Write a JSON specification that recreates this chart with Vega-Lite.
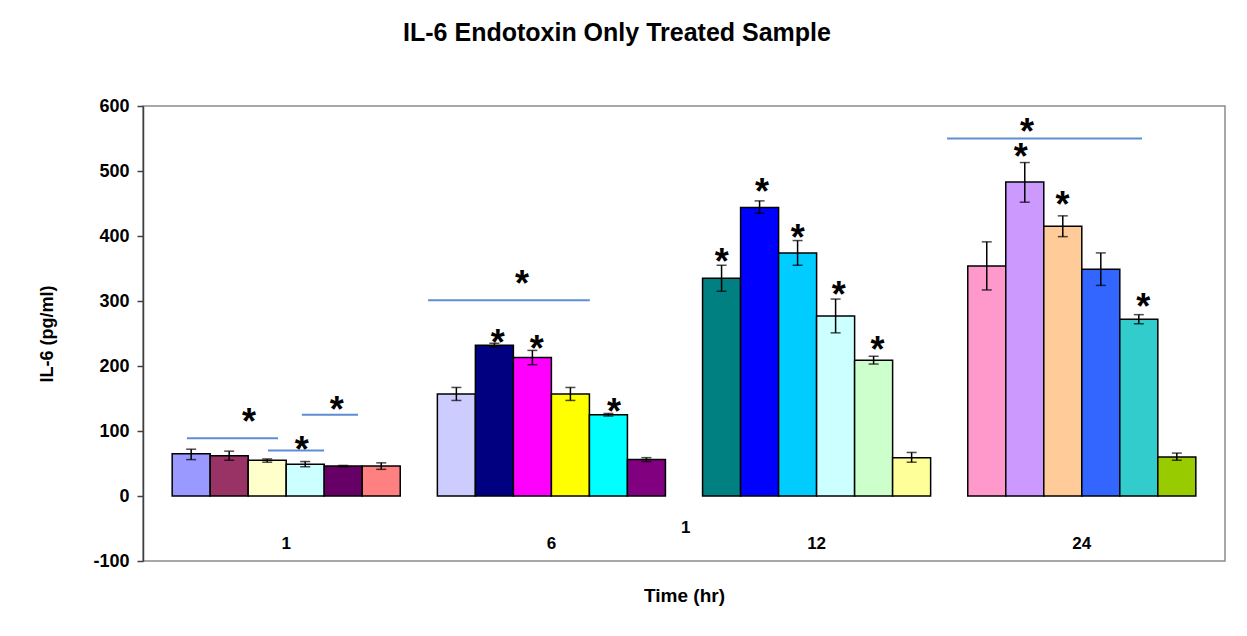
{
  "$schema": "https://vega.github.io/schema/vega-lite/v6.json",
  "width": 1082,
  "height": 455,
  "autosize": {"type": "none"},
  "padding": {"left": 143, "top": 106, "right": 22, "bottom": 75},
  "background": "white",
  "title": {
    "text": "IL-6 Endotoxin Only Treated Sample",
    "font": "Liberation Sans",
    "fontSize": 25,
    "fontWeight": "bold",
    "color": "black",
    "anchor": "middle",
    "dx": -67,
    "offset": 51
  },
  "config": {
    "view": {"stroke": "#8c8c8c", "strokeWidth": 1.5},
    "axis": {"grid": false}
  },
  "datasets": {
    "bars": [
      {"t": "1", "s": 1, "id": "1-1", "v": 65, "lo": 56, "hi": 72},
      {"t": "1", "s": 2, "id": "1-2", "v": 62, "lo": 55, "hi": 69},
      {"t": "1", "s": 3, "id": "1-3", "v": 55, "lo": 52, "hi": 57},
      {"t": "1", "s": 4, "id": "1-4", "v": 49, "lo": 45, "hi": 53},
      {"t": "1", "s": 5, "id": "1-5", "v": 46, "lo": 45, "hi": 47},
      {"t": "1", "s": 6, "id": "1-6", "v": 46, "lo": 41, "hi": 51},
      {"t": "6", "s": 1, "id": "6-1", "v": 157, "lo": 147, "hi": 167},
      {"t": "6", "s": 2, "id": "6-2", "v": 232, "lo": 229, "hi": 235},
      {"t": "6", "s": 3, "id": "6-3", "v": 213, "lo": 202, "hi": 224},
      {"t": "6", "s": 4, "id": "6-4", "v": 157, "lo": 147, "hi": 167},
      {"t": "6", "s": 5, "id": "6-5", "v": 125, "lo": 123, "hi": 127},
      {"t": "6", "s": 6, "id": "6-6", "v": 56, "lo": 53, "hi": 59},
      {"t": "12", "s": 1, "id": "12-1", "v": 335, "lo": 315, "hi": 355},
      {"t": "12", "s": 2, "id": "12-2", "v": 444, "lo": 435, "hi": 454},
      {"t": "12", "s": 3, "id": "12-3", "v": 374, "lo": 355, "hi": 393},
      {"t": "12", "s": 4, "id": "12-4", "v": 277, "lo": 251, "hi": 303},
      {"t": "12", "s": 5, "id": "12-5", "v": 209, "lo": 203, "hi": 215},
      {"t": "12", "s": 6, "id": "12-6", "v": 59, "lo": 52, "hi": 67},
      {"t": "24", "s": 1, "id": "24-1", "v": 354, "lo": 317, "hi": 391},
      {"t": "24", "s": 2, "id": "24-2", "v": 483, "lo": 452, "hi": 513},
      {"t": "24", "s": 3, "id": "24-3", "v": 415, "lo": 399, "hi": 431},
      {"t": "24", "s": 4, "id": "24-4", "v": 349, "lo": 324, "hi": 374},
      {"t": "24", "s": 5, "id": "24-5", "v": 272, "lo": 265, "hi": 279},
      {"t": "24", "s": 6, "id": "24-6", "v": 60, "lo": 55, "hi": 66}
    ],
    "lines": [
      {"u1": 0.056, "u2": 0.399, "y": 89},
      {"u1": 0.361, "u2": 0.573, "y": 70},
      {"u1": 0.489, "u2": 0.701, "y": 125},
      {"u1": 0.965, "u2": 1.575, "y": 301},
      {"u1": 2.922, "u2": 3.657, "y": 550}
    ],
    "stars": [
      {"u": 0.290, "y": 125, "label": "*"},
      {"u": 0.489, "y": 82, "label": "*"},
      {"u": 0.621, "y": 143, "label": "*"},
      {"u": 1.319, "y": 337, "label": "*"},
      {"u": 3.223, "y": 571, "label": "*"},
      {"u": 1.228, "y": 246, "label": "*"},
      {"u": 1.375, "y": 237, "label": "*"},
      {"u": 1.666, "y": 140, "label": "*"},
      {"u": 2.072, "y": 371, "label": "*"},
      {"u": 2.224, "y": 478, "label": "*"},
      {"u": 2.359, "y": 407, "label": "*"},
      {"u": 2.514, "y": 320, "label": "*"},
      {"u": 2.660, "y": 236, "label": "*"},
      {"u": 3.200, "y": 533, "label": "*"},
      {"u": 3.357, "y": 458, "label": "*"},
      {"u": 3.662, "y": 302, "label": "*"}
    ],
    "notes": [
      {"u": 1.937, "y": -49, "label": "1"}
    ]
  },
  "layer": [
    {
      "data": {"name": "bars"},
      "encoding": {
        "x": {
          "field": "t",
          "type": "nominal",
          "sort": ["1", "6", "12", "24"],
          "scale": {"paddingInner": 0.14, "paddingOuter": 0.11},
          "axis": {
            "title": "Time (hr)",
            "titleFont": "Liberation Sans",
            "titleFontSize": 19,
            "titleFontWeight": "bold",
            "titleColor": "black",
            "titlePadding": 25,
            "labelAngle": 0,
            "labelFont": "Liberation Sans",
            "labelFontSize": 17,
            "labelFontWeight": "bold",
            "labelColor": "black",
            "labelPadding": -26,
            "ticks": false,
            "domain": false
          }
        },
        "xOffset": {"field": "s", "type": "ordinal", "scale": {"paddingInner": 0, "paddingOuter": 0}}
      },
      "layer": [
        {
          "mark": {"type": "bar", "stroke": "black", "strokeWidth": 1.5},
          "encoding": {
            "y": {
              "field": "v",
              "type": "quantitative",
              "title": "IL-6 (pg/ml)",
              "scale": {"domain": [-100, 600], "nice": false},
              "axis": {
                "values": [-100, 0, 100, 200, 300, 400, 500, 600],
                "labelExpr": "'' + datum.value",
                "domainColor": "#404040",
                "domainWidth": 1.5,
                "tickColor": "#404040",
                "tickWidth": 1.5,
                "tickSize": 6,
                "labelFont": "Liberation Sans",
                "labelFontSize": 18,
                "labelFontWeight": "bold",
                "labelColor": "black",
                "labelPadding": 8,
                "titleFont": "Liberation Sans",
                "titleFontSize": 18,
                "titleFontWeight": "bold",
                "titleColor": "black",
                "titlePadding": 36
              }
            },
            "color": {
              "field": "id",
              "type": "nominal",
              "legend": null,
              "scale": {
                "domain": ["1-1","1-2","1-3","1-4","1-5","1-6","6-1","6-2","6-3","6-4","6-5","6-6","12-1","12-2","12-3","12-4","12-5","12-6","24-1","24-2","24-3","24-4","24-5","24-6"],
                "range": ["#9999FF","#993366","#FFFFCC","#CCFFFF","#660066","#FF8080","#CCCCFF","#000080","#FF00FF","#FFFF00","#00FFFF","#800080","#008080","#0000FF","#00CCFF","#CCFFFF","#CCFFCC","#FFFF99","#FF99CC","#CC99FF","#FFCC99","#3366FF","#33CCCC","#99CC00"]
              }
            }
          }
        },
        {
          "mark": {"type": "rule", "color": "black", "strokeWidth": 1.5},
          "encoding": {
            "y": {"field": "lo", "type": "quantitative", "title": "IL-6 (pg/ml)", "scale": {"domain": [-100, 600], "nice": false}},
            "y2": {"field": "hi"}
          }
        },
        {
          "mark": {"type": "tick", "color": "black", "thickness": 1.5, "size": 10},
          "encoding": {
            "y": {"field": "lo", "type": "quantitative", "title": "IL-6 (pg/ml)", "scale": {"domain": [-100, 600], "nice": false}}
          }
        },
        {
          "mark": {"type": "tick", "color": "black", "thickness": 1.5, "size": 10},
          "encoding": {
            "y": {"field": "hi", "type": "quantitative", "title": "IL-6 (pg/ml)", "scale": {"domain": [-100, 600], "nice": false}}
          }
        }
      ]
    },
    {
      "layer": [
        {
          "mark": {"type": "rule", "color": "#555555", "strokeWidth": 1.2},
          "encoding": {
            "y": {"datum": 0, "type": "quantitative", "title": "IL-6 (pg/ml)", "scale": {"domain": [-100, 600], "nice": false}}
          }
        },
        {
          "data": {"name": "lines"},
          "mark": {"type": "rule", "color": "#5F8DD3", "strokeWidth": 2},
          "encoding": {
            "x": {"field": "u1", "type": "quantitative", "scale": {"domain": [-0.11, 3.97], "nice": false, "zero": false}, "axis": null},
            "x2": {"field": "u2"},
            "y": {"field": "y", "type": "quantitative", "title": "IL-6 (pg/ml)", "scale": {"domain": [-100, 600], "nice": false}}
          }
        },
        {
          "data": {"name": "stars"},
          "mark": {"type": "text", "font": "Liberation Sans", "fontSize": 36, "fontWeight": "bold", "color": "black", "baseline": "alphabetic", "align": "center", "dy": 19},
          "encoding": {
            "x": {"field": "u", "type": "quantitative", "scale": {"domain": [-0.11, 3.97], "nice": false, "zero": false}, "axis": null},
            "y": {"field": "y", "type": "quantitative", "title": "IL-6 (pg/ml)", "scale": {"domain": [-100, 600], "nice": false}},
            "text": {"field": "label"}
          }
        },
        {
          "data": {"name": "notes"},
          "mark": {"type": "text", "font": "Liberation Sans", "fontSize": 17, "fontWeight": "bold", "color": "black", "baseline": "middle", "align": "center"},
          "encoding": {
            "x": {"field": "u", "type": "quantitative", "scale": {"domain": [-0.11, 3.97], "nice": false, "zero": false}, "axis": null},
            "y": {"field": "y", "type": "quantitative", "title": "IL-6 (pg/ml)", "scale": {"domain": [-100, 600], "nice": false}},
            "text": {"field": "label"}
          }
        }
      ]
    }
  ],
  "resolve": {"scale": {"x": "independent"}}
}
